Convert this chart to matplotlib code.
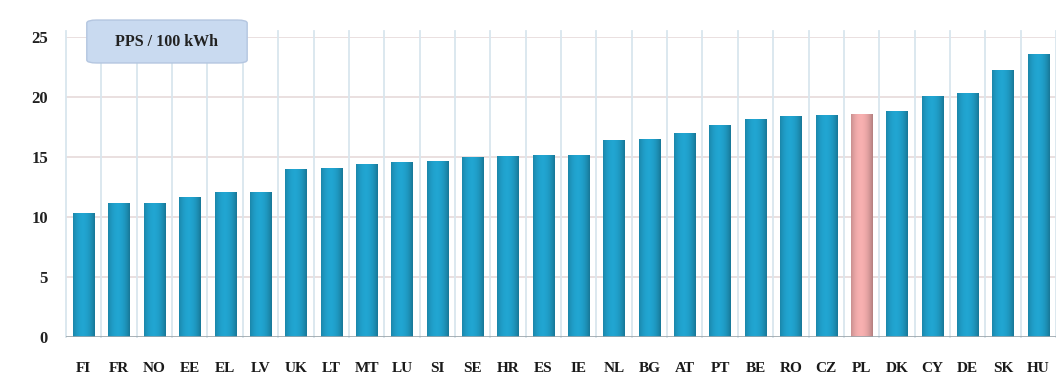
import numpy as np
import matplotlib.pyplot as plt
from matplotlib.patches import FancyBboxPatch

countries = ["FI", "FR", "NO", "EE", "EL", "LV", "UK", "LT", "MT", "LU", "SI", "SE", "HR", "ES",
             "IE", "NL", "BG", "AT", "PT", "BE", "RO", "CZ", "PL", "DK", "CY", "DE", "SK", "HU"]
prices = [10.3, 11.2, 11.2, 11.7, 12.1, 12.1, 14.0, 14.1, 14.4, 14.6, 14.7, 15.0, 15.1, 15.2,
          15.2, 16.4, 16.5, 17.0, 17.7, 18.2, 18.4, 18.5, 18.6, 18.8, 20.1, 20.3, 22.2, 23.6]
highlight = "PL"
yticks = [0, 5, 10, 15, 20, 25]
unit_label = "PPS / 100 kWh"

fig = plt.figure(figsize=(10.56, 3.92), dpi=100)
ax = fig.add_axes([0.0625, 0.140, 0.9375, 0.766])

x = np.arange(len(countries))
bars = ax.bar(x, prices, width=0.6, color="#1f9bc0", zorder=3)

# horizontal shading on each bar: darker edges, lighter middle
grad = np.linspace(0, 1, 64)
shade = 1.08 - 1.0 * np.abs(grad - 0.45) ** 2
for name, bar in zip(countries, bars):
    if name == highlight:
        base = np.array([0.90, 0.64, 0.64])
    else:
        base = np.array([0.12, 0.60, 0.76])
    img = np.clip(base[None, :] * shade[:, None], 0, 1)[None, :, :]
    bx, bw, bh = bar.get_x(), bar.get_width(), bar.get_height()
    im = ax.imshow(img, extent=[bx, bx + bw, 0, bh], aspect="auto", zorder=4, interpolation="bilinear")
    im.set_clip_path(bar)
    bar.set_alpha(0)

ax.set_xlim(-0.5, len(countries) - 0.5)
ax.set_ylim(0, 25)

# grid: horizontal at the y ticks, vertical between categories
for y in yticks[1:]:
    ax.axhline(y, color="#e6dada", lw=1.2, zorder=1)
for b in np.arange(len(countries) + 1) - 0.5:
    ax.axvline(b, ymax=1.02, color="#d9e6ee", lw=1.3, zorder=1, clip_on=False)
ax.axhline(0, color="#9aa4aa", lw=1.2, zorder=5)

ax.set_yticks(yticks)
ax.set_yticklabels([str(t) for t in yticks], fontsize=12, fontweight="bold", color="#222222",
                   family="Liberation Serif")
ax.set_xticks(x)
ax.set_xticklabels(countries, fontsize=11, fontweight="bold", color="#1a1a1a", family="Liberation Serif")
ax.tick_params(axis="y", length=0, pad=13)
ax.tick_params(axis="x", length=0, pad=18)
for s in ax.spines.values():
    s.set_visible(False)

# unit box in the top-left corner
box = FancyBboxPatch((0.021, 0.913), 0.162, 0.143, boxstyle="round,pad=0,rounding_size=0.01",
                     transform=ax.transAxes, facecolor="#c9daf0", edgecolor="#b4c6e0",
                     lw=1, zorder=6, clip_on=False)
ax.add_patch(box)
ax.text(0.102, 0.984, unit_label, transform=ax.transAxes, ha="center", va="center",
        fontsize=11.5, fontweight="bold", color="#222222", family="Liberation Serif", zorder=7)

fig.savefig("out.png", dpi=100)
